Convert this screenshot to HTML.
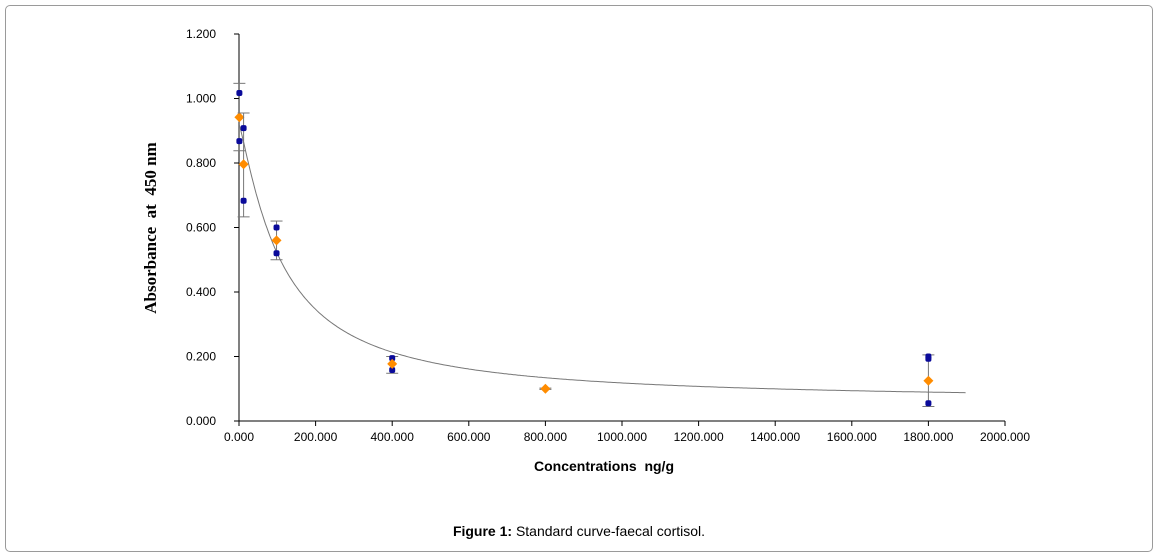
<!DOCTYPE html>
<html><head><meta charset="utf-8"><style>
body{margin:0;background:#fff;width:1158px;height:557px;overflow:hidden;font-family:"Liberation Sans",Arial,sans-serif}
#frame{position:absolute;left:5px;top:5px;width:1146px;height:545px;border:1px solid #9a9a9a;border-radius:5px}
text{white-space:pre}
</style></head><body>
<div id="frame"></div>
<svg width="1158" height="557" style="position:absolute;left:0;top:0">
<g id="axes"></g><g id="marks"></g>
<text x="156" y="228" transform="rotate(-90 156 228)" text-anchor="middle" font-family="Liberation Serif,serif" font-weight="bold" font-size="17" xml:space="preserve">Absorbance  at  450 nm</text>
<text x="604" y="471" text-anchor="middle" font-weight="bold" font-size="14" xml:space="preserve">Concentrations  ng/g</text>
<text x="579" y="536" text-anchor="middle" font-size="14"><tspan font-weight="bold">Figure 1:</tspan> Standard curve-faecal cortisol.</text>
</svg>
<script>
const xTicks=[0,200,400,600,800,1000,1200,1400,1600,1800,2000];
const yTicks=[0,0.2,0.4,0.6,0.8,1.0,1.2];
const concentrations=[1,12,98,400,800,1800];
const replicateA=[1.017,0.908,0.600,0.195,null,0.200];
const replicateB=[0.868,0.683,0.520,0.158,null,0.055];
const replicateC=[null,null,null,null,null,0.193];
const means=[0.942,0.796,0.560,0.177,0.100,0.125];
const errLow=[0.838,0.633,0.500,0.148,0.098,0.045];
const errHigh=[1.047,0.955,0.620,0.200,0.102,0.205];
const curveParams=[0.92,0.06,112,1.2]; // top, bottom, ec50, slope
const X=v=>239+v*(1005-239)/2000, Y=v=>421-v*(421-34)/1.2;
const NS='http://www.w3.org/2000/svg';
function mk(p,t,a){const e=document.createElementNS(NS,t);for(const k in a)e.setAttribute(k,a[k]);p.appendChild(e);return e;}
const ax=document.getElementById('axes'),mg=document.getElementById('marks');
let l=mk(ax,'line',{x1:239,y1:421,x2:1005,y2:421,stroke:'#000'});

l=mk(ax,'line',{x1:239,y1:34,x2:239,y2:421,stroke:'#000'});

xTicks.forEach(v=>{mk(ax,'line',{x1:X(v),x2:X(v),y1:421,y2:426,stroke:'#000'});
 const t=mk(ax,'text',{x:X(v),y:441,'text-anchor':'middle','font-size':12});t.textContent=v.toFixed(3);
 });
yTicks.forEach(v=>{mk(ax,'line',{x1:234,x2:239,y1:Y(v),y2:Y(v),stroke:'#000'});
 const t=mk(ax,'text',{x:216,y:Y(v)+4,'text-anchor':'end','font-size':12});t.textContent=v.toFixed(3);
 });
const [a,d,c,b]=curveParams;let pts=[];
for(let x=1;x<=1900;x+=4){pts.push(X(x).toFixed(1)+','+Y(d+(a-d)/(1+Math.pow(x/c,b))).toFixed(1));}
l=mk(mg,'polyline',{points:pts.join(' '),fill:'none',stroke:'#777','stroke-width':1});

concentrations.forEach((cx,i)=>{const x=X(cx);
 const e=mk(mg,'g',{stroke:'#777','stroke-width':1});
 
 mk(e,'line',{x1:x,x2:x,y1:Y(errLow[i]),y2:Y(errHigh[i])});
 mk(e,'line',{x1:x-6,x2:x+6,y1:Y(errLow[i]),y2:Y(errLow[i])});
 mk(e,'line',{x1:x-6,x2:x+6,y1:Y(errHigh[i]),y2:Y(errHigh[i])});
 [replicateA,replicateB,replicateC].forEach(arr=>{if(arr[i]==null)return;
  const r=mk(mg,'rect',{x:x-3,y:Y(arr[i])-3,width:6,height:6,rx:2,fill:'#0a0a9a'});
  });
 const y=Y(means[i]);
 const m=mk(mg,'polygon',{points:`${x},${y-5} ${x+5},${y} ${x},${y+5} ${x-5},${y}`,fill:'#ff8c00'});
 
});
</script>
</body></html>
